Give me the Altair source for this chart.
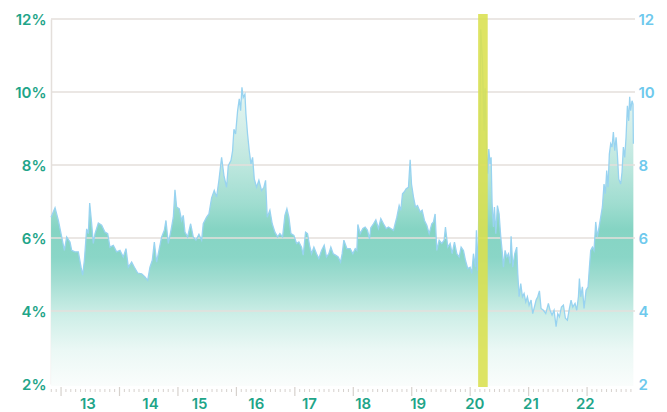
import altair as alt
import pandas as pd

# ---- data (decimal year, percent) ----
years = [
    2012.829, 2012.897, 2012.954, 2013.011, 2013.057, 2013.096, 2013.153, 2013.182, 2013.239, 2013.296,
    2013.342, 2013.370, 2013.399, 2013.438, 2013.467, 2013.490, 2013.524, 2013.552, 2013.581, 2013.638,
    2013.695, 2013.752, 2013.798, 2013.837, 2013.894, 2013.951, 2014.008, 2014.065, 2014.111, 2014.151,
    2014.208, 2014.254, 2014.311, 2014.379, 2014.436, 2014.482, 2014.521, 2014.561, 2014.596, 2014.635,
    2014.681, 2014.721, 2014.767, 2014.795, 2014.835, 2014.881, 2014.921, 2014.949, 2014.977, 2015.023,
    2015.063, 2015.091, 2015.120, 2015.165, 2015.217, 2015.262, 2015.308, 2015.359, 2015.405, 2015.433,
    2015.490, 2015.530, 2015.576, 2015.621, 2015.661, 2015.701, 2015.747, 2015.787, 2015.832, 2015.861,
    2015.907, 2015.935, 2015.958, 2015.986, 2016.021, 2016.049, 2016.072, 2016.095, 2016.117, 2016.146,
    2016.163, 2016.191, 2016.220, 2016.249, 2016.277, 2016.306, 2016.345, 2016.385, 2016.431, 2016.471,
    2016.499, 2016.528, 2016.573, 2016.613, 2016.659, 2016.705, 2016.744, 2016.790, 2016.830, 2016.864,
    2016.898, 2016.933, 2016.984, 2017.030, 2017.069, 2017.115, 2017.143, 2017.183, 2017.217, 2017.252,
    2017.286, 2017.326, 2017.371, 2017.411, 2017.457, 2017.502, 2017.542, 2017.582, 2017.616, 2017.656,
    2017.696, 2017.742, 2017.782, 2017.810, 2017.839,
    2017.890, 2017.947, 2017.993, 2018.033, 2018.061, 2018.078, 2018.118, 2018.164, 2018.203, 2018.243,
    2018.278, 2018.300, 2018.346, 2018.386, 2018.431, 2018.471, 2018.517, 2018.563, 2018.602, 2018.642,
    2018.688, 2018.716, 2018.745, 2018.785, 2018.813, 2018.842, 2018.870, 2018.905, 2018.944, 2018.973,
    2018.996, 2019.030, 2019.064, 2019.098, 2019.144, 2019.178, 2019.218, 2019.258, 2019.298, 2019.343,
    2019.372, 2019.400, 2019.429, 2019.469, 2019.514, 2019.554, 2019.577, 2019.617, 2019.657, 2019.691,
    2019.731, 2019.771, 2019.811, 2019.845, 2019.885, 2019.919, 2019.959, 2019.999, 2020.027, 2020.056,
    2020.090, 2020.107, 2020.124, 2020.141, 2020.158, 2020.181, 2020.210, 2020.238, 2020.255, 2020.284,
    2020.301, 2020.318, 2020.341, 2020.358, 2020.375, 2020.398, 2020.415, 2020.438, 2020.466, 2020.495,
    2020.523, 2020.552, 2020.569, 2020.597, 2020.626, 2020.654, 2020.683, 2020.700, 2020.729, 2020.763,
    2020.797, 2020.814, 2020.837, 2020.865, 2020.894, 2020.922, 2020.951, 2020.979, 2021.008, 2021.042,
    2021.070, 2021.099, 2021.128, 2021.156, 2021.185, 2021.213, 2021.253, 2021.293, 2021.338, 2021.367,
    2021.401, 2021.435, 2021.470, 2021.498, 2021.527, 2021.561, 2021.595, 2021.629, 2021.663, 2021.698,
    2021.726, 2021.755, 2021.794, 2021.823, 2021.852, 2021.869, 2021.891, 2021.920, 2021.948, 2021.983,
    2022.017, 2022.040, 2022.062, 2022.091, 2022.119, 2022.148, 2022.176, 2022.205, 2022.233, 2022.262,
    2022.290, 2022.313, 2022.336, 2022.359, 2022.381, 2022.404, 2022.427, 2022.450, 2022.473, 2022.496,
    2022.518, 2022.541, 2022.575, 2022.598, 2022.621, 2022.644, 2022.667, 2022.690, 2022.712, 2022.729,
    2022.746, 2022.769, 2022.786, 2022.792,
]
rate = [
    6.57, 6.83, 6.48, 6.03, 5.66, 6.03, 5.89, 5.66, 5.62, 5.62,
    5.20, 4.98, 5.39, 6.25, 6.12, 6.96, 6.39, 5.85, 6.12, 6.41,
    6.35, 6.16, 6.12, 5.75, 5.80, 5.62, 5.66, 5.48, 5.71, 5.20,
    5.34, 5.20, 5.04, 5.02, 4.93, 4.84, 5.20, 5.39, 5.89, 5.34,
    5.71, 6.03, 6.21, 6.48, 5.85, 6.21, 6.57, 7.32, 6.85, 6.80,
    6.48, 6.62, 6.16, 6.03, 6.39, 6.03, 5.94, 6.10, 5.94, 6.39,
    6.57, 6.66, 7.10, 7.30, 7.12, 7.58, 8.21, 7.71, 7.39, 7.98,
    8.12, 8.39, 8.98, 8.85, 9.49, 9.81, 9.49, 10.13, 9.85, 9.94,
    9.40, 8.85, 8.39, 8.03, 8.21, 7.62, 7.39, 7.58, 7.30, 7.39,
    7.58, 6.57, 6.76, 6.39, 6.16, 6.03, 6.12, 6.03, 6.62, 6.80,
    6.57, 6.12, 6.07, 5.85, 5.89, 5.75, 5.53, 6.16, 6.12, 5.80,
    5.57, 5.75, 5.57, 5.44, 5.66, 5.80, 5.48, 5.57, 5.75, 5.57,
    5.53, 5.48, 5.34, 5.57, 5.94,
    5.71, 5.71, 5.57, 5.71, 5.66, 6.37, 6.12, 6.26, 6.30, 6.21,
    5.98, 6.28, 6.39, 6.50, 6.26, 6.53, 6.39, 6.26, 6.30, 6.26,
    6.21, 6.39, 6.57, 6.89, 6.76, 7.21, 7.26, 7.35, 7.39, 8.14,
    7.48, 7.12, 6.85, 6.89, 6.71, 6.76, 6.48, 6.35, 6.12, 6.39,
    6.44, 6.66, 5.66, 5.94, 5.85, 5.94, 6.30, 5.75, 5.85, 5.57,
    5.89, 5.57, 5.48, 5.75, 5.66, 5.39, 5.16, 5.20, 5.03, 5.57,
    5.20, 6.21, 5.10, 6.00, 8.30, 11.72, 10.85, 8.94, 10.10, 8.30,
    7.76, 8.44, 8.03, 8.21, 6.94, 6.30, 6.85, 6.12, 6.89, 6.66,
    6.03, 5.57, 5.20, 5.66, 5.48, 5.57, 5.30, 6.05, 5.20, 5.57,
    5.75, 5.03, 4.39, 4.75, 4.39, 4.48, 4.25, 4.39, 4.16, 4.30,
    3.93, 4.11, 4.30, 4.39, 4.55, 4.07, 4.02, 3.93, 4.21, 4.02,
    3.89, 4.02, 3.57, 3.93, 3.84, 4.11, 4.16, 3.80, 3.75, 4.07,
    4.30, 4.11, 4.21, 4.02, 4.39, 4.89, 4.39, 4.66, 4.07, 4.57,
    4.66, 5.20, 5.66, 5.75, 5.66, 6.44, 6.03, 6.30, 6.57, 6.85,
    7.48, 7.21, 7.85, 7.39, 8.30, 8.58, 8.49, 8.90, 8.39, 8.76,
    8.30, 7.62, 7.48, 7.80, 8.49, 8.21, 8.76, 9.62, 9.21, 9.87,
    9.49, 9.76, 9.67, 8.58,
]

y_ticks = [2, 4, 6, 8, 10, 12]
grid_vals = [4, 6, 8, 10, 12]
x_domain = [2012.828, 2022.82]
label_pos = [2013.46, 2014.53, 2015.37, 2016.34, 2017.25, 2018.17, 2019.11, 2020.08, 2021.04, 2021.97]
label_txt = ["13", "14", "15", "16", "17", "18", "19", "20", "21", "22"]
major_ticks = [2013, 2014, 2015, 2016, 2017, 2018, 2019, 2020, 2021, 2022]
band_start = [2020.136]
band_end = [2020.30]

minor_ticks = [y + m / 12 for y in range(2012, 2023) for m in range(1, 12)
               if x_domain[0] <= y + m / 12 <= x_domain[1]]

W, H = 584, 365
TEAL = "#1fa589"
BLUE = "#6ec9ed"
GRID = "#e4dfdb"
FONT = "Inter"
FW = 600

df = pd.DataFrame({"t": years, "v": rate})
xs = alt.Scale(domain=x_domain, nice=False, zero=False)
ys = alt.Scale(domain=[2, 12], nice=False, zero=False)

grad = alt.Gradient(
    gradient="linear",
    stops=[
        alt.GradientStop(offset=0.0, color="#f4fbfa"),
        alt.GradientStop(offset=0.18, color="#e4f5f1"),
        alt.GradientStop(offset=0.28, color="#d3eee8"),
        alt.GradientStop(offset=0.38, color="#bde7de"),
        alt.GradientStop(offset=0.49, color="#9fddd0"),
        alt.GradientStop(offset=0.56, color="#85d4c3"),
        alt.GradientStop(offset=0.64, color="#8ad6c7"),
        alt.GradientStop(offset=0.70, color="#a1ddd1"),
        alt.GradientStop(offset=0.80, color="#cdeee7"),
        alt.GradientStop(offset=0.90, color="#ebf8f5"),
        alt.GradientStop(offset=1.0, color="#fafdfc"),
    ],
    x1=1, x2=1, y1=0, y2=1,
)

area = alt.Chart(df).mark_area(color=grad, interpolate="linear").encode(
    x=alt.X("t:Q", scale=xs, axis=None),
    y=alt.Y("v:Q", scale=ys, stack=None, axis=alt.Axis(
        orient="left", values=y_ticks, labelExpr="datum.value + '%'", grid=False,
        ticks=False, domain=True, domainColor=GRID, domainWidth=1.5,
        labelColor=TEAL, labelFont=FONT, labelFontWeight=FW, labelFontSize=15,
        labelPadding=5, title=None)),
    y2=alt.value(H + 2),
)

grid = alt.Chart(pd.DataFrame({"g": grid_vals})).mark_rule(color=GRID, strokeWidth=1.3).encode(
    y=alt.Y("g:Q", scale=ys, axis=None),
    x=alt.value(0), x2=alt.value(W),
)

line = alt.Chart(df).mark_line(color="#98d3f0", strokeWidth=1.3).encode(
    x=alt.X("t:Q", scale=xs, axis=None),
    y=alt.Y("v:Q", scale=ys, axis=alt.Axis(
        orient="right", values=y_ticks, grid=False, ticks=False, domain=False,
        labelColor=BLUE, labelFont=FONT, labelFontWeight=FW, labelFontSize=15,
        labelPadding=3, title=None)),
)

band = alt.Chart(pd.DataFrame({"a": band_start, "b": band_end})).mark_rect(
    color="#d9e04e", opacity=0.88).encode(
    x=alt.X("a:Q", scale=xs, axis=None), x2="b:Q",
    y=alt.value(-5), y2=alt.value(H + 3),
)

major = alt.Chart(pd.DataFrame({"m": major_ticks})).mark_rule(color="#d6d1cd", strokeWidth=1.2).encode(
    x=alt.X("m:Q", scale=xs, axis=None), y=alt.value(H + 3), y2=alt.value(H + 12),
)
minor = alt.Chart(pd.DataFrame({"m": minor_ticks})).mark_rule(color="#d6d1cd", strokeWidth=1).encode(
    x=alt.X("m:Q", scale=xs, axis=None), y=alt.value(H + 5), y2=alt.value(H + 8),
)
labels = alt.Chart(pd.DataFrame({"p": label_pos, "s": label_txt})).mark_text(
    color=TEAL, font=FONT, fontWeight=FW, fontSize=15, baseline="middle", align="center").encode(
    x=alt.X("p:Q", scale=xs, axis=None), y=alt.value(H + 20), text="s:N",
)

chart = alt.layer(area, grid, line, band, major, minor, labels).resolve_scale(
    y="independent"
).properties(
    width=W, height=H,
    autosize=alt.AutoSizeParams(type="none"),
    padding={"left": 43, "top": 11, "right": 24, "bottom": 29},
).configure_view(stroke=None)

chart.save("out.html", embed_options={"renderer": "svg", "actions": False})
